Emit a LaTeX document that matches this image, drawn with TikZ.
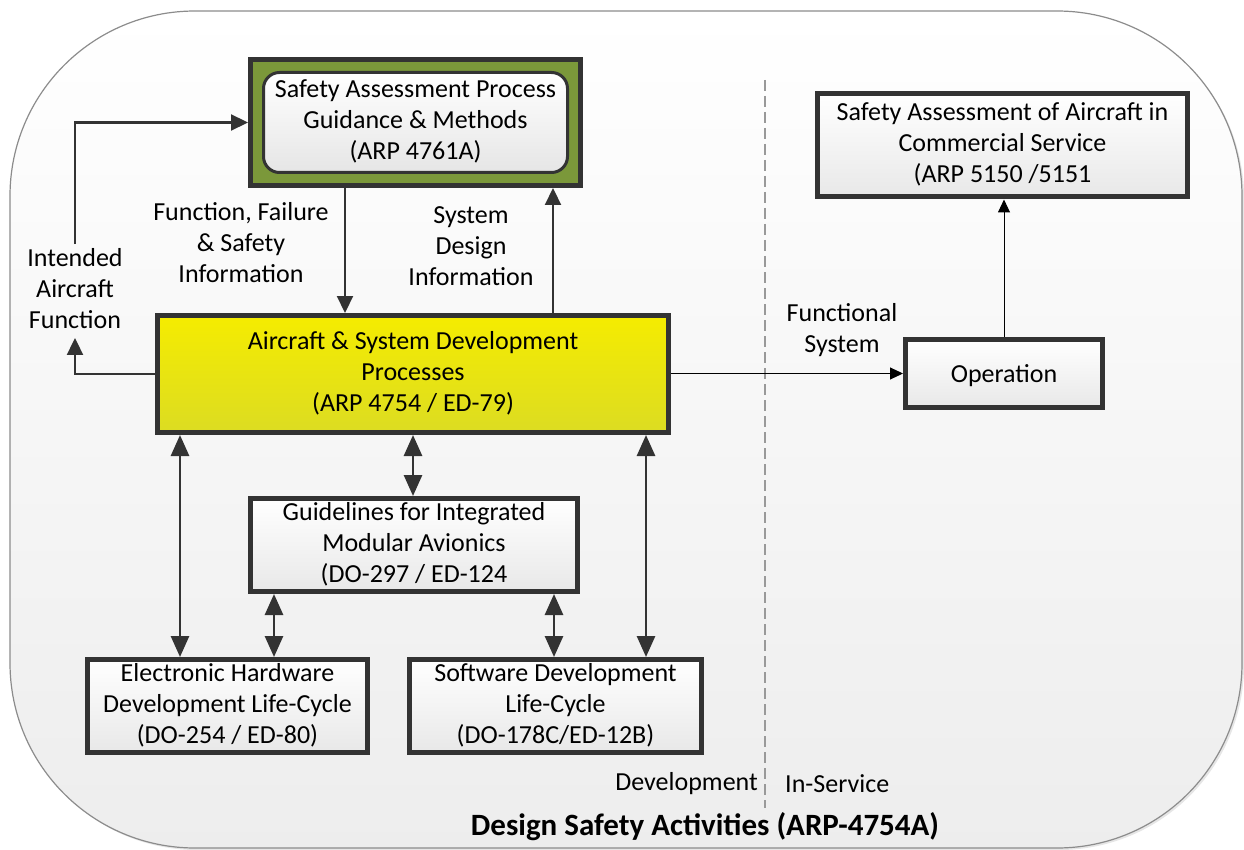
\documentclass[tikz,border=0pt]{standalone}
\usepackage{fontspec}
\setmainfont{Carlito}
\usetikzlibrary{arrows.meta,shadows,calc}
\definecolor{dk}{HTML}{333333}
\definecolor{sapgreen}{HTML}{7B983A}
\definecolor{ylwtop}{HTML}{F5EC00}
\definecolor{ylwbot}{HTML}{DCDC22}
\newcommand\lblfont{\fontsize{26}{31}\selectfont}
\newcommand\mystrut{\rule[-5.5pt]{0pt}{29pt}}
\begin{document}
\begin{tikzpicture}[x=1pt,y=-1pt,
  shdw/.style={drop shadow={shadow xshift=2.5pt,shadow yshift=-2.5pt,opacity=0.25}},
  box/.style={draw=dk,line width=5pt,top color=white,bottom color=black!9,inner sep=0pt,
    align=center,font=\lblfont,execute at begin node=\mystrut,execute at end node=\mystrut,shdw},
  lbl/.style={align=center,font=\lblfont,inner sep=4pt,execute at begin node=\mystrut,execute at end node=\mystrut},
  med/.style={draw=dk,line width=2.2pt,-{Triangle[length=17pt,width=16pt]}},
  thinarr/.style={draw=black,line width=1pt,-{Triangle[length=13pt,width=12pt]}},
  dbl/.style={draw=dk,line width=2.8pt,{Triangle[length=21pt,width=18pt]}-{Triangle[length=21pt,width=18pt]}}
]
\useasboundingbox (0,0) rectangle (1244,850);
% outer frame
\path[draw=black!45,line width=1.2pt,top color=white,bottom color=black!7,rounded corners=185pt,
  drop shadow={shadow xshift=2pt,shadow yshift=-2pt,opacity=0.2}] (10,11) rectangle (1242,848);
% divider
\draw[black!40,line width=1.3pt,dash pattern=on 11pt off 5pt] (765,80) -- (765,808);

% boxes
\node[draw=dk,line width=5pt,fill=sapgreen,minimum width=330pt,minimum height=126pt,inner sep=0pt,shdw] (sap) at (415.5,122.5) {};
\node[draw=dk,line width=3pt,rounded corners=16pt,top color=white,bottom color=black!10,
  minimum width=304pt,minimum height=100pt,inner sep=0pt,align=center,font=\lblfont,
  execute at begin node=\mystrut,execute at end node=\mystrut] (sapin) at (sap.center)
  {Safety Assessment Process\\Guidance \& Methods\\(ARP 4761A)};

\node[box,top color=ylwtop,bottom color=ylwbot,minimum width=511pt,minimum height=117pt] (ads) at (413,374)
  {Aircraft \& System Development\\Processes\\(ARP 4754 / ED-79)};

\node[box,minimum width=370pt,minimum height=103pt] (sac) at (1002.5,145.5)
  {Safety Assessment of Aircraft in\\Commercial Service\\(ARP 5150 /5151};
\node[box,minimum width=197pt,minimum height=68pt] (op) at (1004,373.5) {Operation};

\node[box,minimum width=327pt,minimum height=93pt] (ima) at (414,545)
  {Guidelines for Integrated\\Modular Avionics\\(DO-297 / ED-124};
\node[box,minimum width=280pt,minimum height=93pt] (ehw) at (227.5,706)
  {Electronic Hardware\\Development Life-Cycle\\(DO-254 / ED-80)};
\node[box,minimum width=292pt,minimum height=93pt] (sw) at (555.5,706)
  {Software Development\\Life-Cycle\\(DO-178C/ED-12B)};

% labels
\node[lbl] (intended) at (75,291) {Intended\\Aircraft\\Function};
\node[lbl] (ffs) at (241,245) {Function, Failure\\\& Safety\\Information};
\node[lbl] (sdi) at (471,249) {System\\Design\\Information};
\node[lbl] (fs) at (842,331) {Functional\\System};
\node[font=\lblfont,inner sep=0pt,anchor=east] (dev) at (758,784) {Development};
\node[font=\lblfont,inner sep=0pt,anchor=west] (insvc) at (785,784) {In-Service};
\node[font=\fontsize{31}{37}\selectfont\bfseries,inner sep=0pt] (title) at (705,827) {Design Safety Activities (ARP-4754A)};

% x positions of vertical connectors
\coordinate (xa) at (180,0);
\coordinate (xb) at (413,0);
\coordinate (xc) at (646,0);
\coordinate (xd) at (274,0);
\coordinate (xe) at (554,0);
\coordinate (xf) at (345,0);
\coordinate (xg) at (553,0);

% connectors
\draw[med] (sap.south -| xf) -- (ads.north -| xf);
\draw[med] (ads.north -| xg) -- (sap.south -| xg);
\draw[med] (ads.west) -| (intended.south);
\draw[med] (intended.north) |- (sap.west);
\draw[thinarr] (op.west -| ads.east) -- (op.west);
\draw[thinarr] (op.north) -- (op.north |- sac.south);

\draw[dbl] (ads.south -| xa) -- (ehw.north -| xa);
\draw[dbl] (ads.south -| xb) -- (ima.north -| xb);
\draw[dbl] (ads.south -| xc) -- (sw.north -| xc);
\draw[dbl] (ima.south -| xd) -- (ehw.north -| xd);
\draw[dbl] (ima.south -| xe) -- (sw.north -| xe);
\end{tikzpicture}
\end{document}
